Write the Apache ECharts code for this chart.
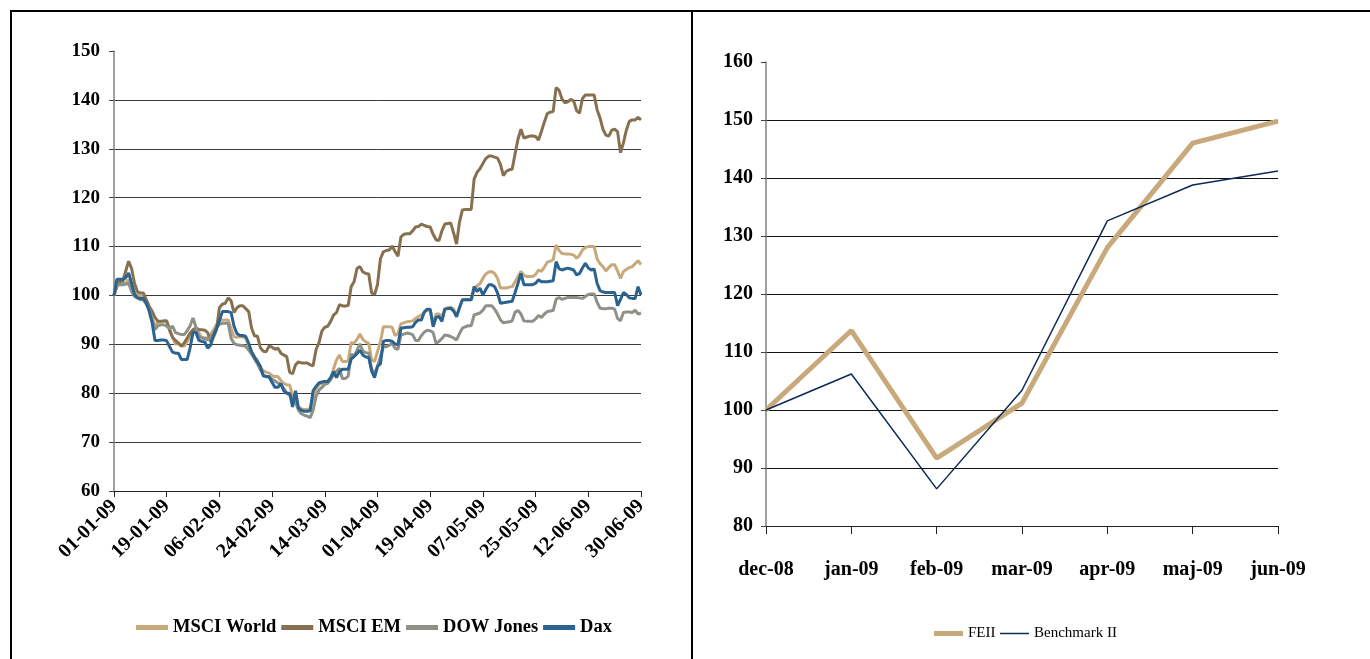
<!DOCTYPE html>
<html><head><meta charset="utf-8">
<script src="https://cdn.jsdelivr.net/npm/echarts@6/dist/echarts.min.js"></script>
<style>html,body{margin:0;padding:0;background:#fff}#c{width:1370px;height:659px}</style>
</head><body><div id="c"></div>
<script>
// ---- categories ----
const firstDayUTC = Date.UTC(2009, 0, 1);
const dayCount = 181;
const dayLabels = [];
for (let i = 0; i < dayCount; i++) {
  const d = new Date(firstDayUTC + i * 86400000);
  const dd = String(d.getUTCDate()).padStart(2, '0');
  const mm = String(d.getUTCMonth() + 1).padStart(2, '0');
  dayLabels.push(dd + '-' + mm + '-09');
}
const monthLabels = ['dec-08', 'jan-09', 'feb-09', 'mar-09', 'apr-09', 'maj-09', 'jun-09'];

// ---- left chart series (daily index, 01-01-09 = 100) ----
const msciWorld = [
100,102.4,102.5,102.5,102.6,103.2,102,100.8,100.3,99.8,
99.8,98.5,97.2,95.5,93.7,94.5,94.7,94.7,94.6,93.2,
91.5,90,90.3,89.8,89.6,90.6,91.5,93,92.8,92.3,
91.4,91.3,91.3,92,93,94,94.8,95,95,95,
93.2,91.5,91.5,91.6,91.5,91.3,89.8,88.3,87.5,86.7,
85.2,84.6,84.3,84.1,83.6,83.4,83.4,82.6,82,81.7,
81.7,79.5,78,77.2,76.8,76.7,76.6,77,79,80.7,
81.8,82,82.2,82.4,82.8,85,86.8,87.8,86.5,86.5,
86.6,90.4,90.2,91,92.1,91,90.5,90.2,86.8,86.5,
88.5,90.5,93.6,93.6,93.6,93.5,91.8,92.2,94.2,94.4,
94.6,94.7,94.8,95.3,95.7,96,96.6,97,97,94.4,
96.2,96.2,95.7,97.2,97.5,97.6,97.2,95.6,97.5,99.1,
99.1,99.1,99.1,101,102,102.4,103.5,104.4,104.8,104.9,
104.5,103.5,101.5,101.5,101.5,101.7,101.8,102.8,103.9,104.9,
104.1,103.9,103.9,103.9,104.3,105.2,104.9,105.8,106.8,107,
107.3,110.3,109.2,108.6,108.5,108.5,108.4,108.3,107.6,108.2,
109.3,109.8,110,110,110,107.5,106.5,105.9,105,105.7,
106.3,106.3,105,103.5,104.9,105.3,105.7,105.9,106.5,107.1,
106.3];
const msciEM = [
100,101.8,102.9,102.9,105,107,105.5,102.5,100.8,100.5,
100.5,99.2,97.8,96.8,95.5,94.7,94.7,94.8,94.8,92.8,
91.4,90.8,90.2,89.6,90.3,91.3,92.3,93,93.3,93,
93,92.9,92.4,90.5,91.5,93,97.5,98.2,98.4,99.5,
98.9,96.5,97.5,97.9,97.9,97.3,96.7,93.3,91.7,91.7,
89.3,88.6,88.5,89.7,89.4,89,89.2,88.2,87.8,87.5,
84.3,84,85.8,86.4,86.2,86.2,86.2,85.8,85.6,88.9,
90.3,92.7,93.5,93.7,94.7,96,96.5,98.1,97.9,97.8,
98,101.8,102.8,105.5,105.9,104.8,104.5,104.4,100.5,100.2,
102.2,107.5,108.9,109.2,109.3,110.1,109,108,112,112.5,
112.6,112.6,113.2,114,114.1,114.6,114.3,114.1,114,112.5,
111.4,111.2,113.2,114.6,114.7,114.8,112.8,110.5,115,117.5,
117.6,117.6,117.6,123.8,125.2,125.9,127,128,128.5,128.5,
128.3,128.1,126.8,124.5,125.4,125.7,125.8,129,132,134,
132.2,132.4,132.6,132.6,132.5,131.8,133.6,135.5,137.2,137.5,
137.6,142.5,142,140.2,139.4,139.6,140.1,139.8,137.8,137.3,
140.3,141,141,141,141,138,136.3,134,132.8,132.6,
133.8,134,133.5,129.2,131.2,133.8,135.6,135.9,135.9,136.4,
135.9];
const dowJones = [
100,102.2,102.2,102.2,102.3,102.5,100.8,99.8,99.5,99.1,
99.1,98.2,97.2,95.2,93,93.8,94,94,93.7,93.2,
93.7,92.4,92.2,92,92,92.8,93.8,95.4,93.5,91.6,
91.3,91.2,90.9,91.5,92.3,93.4,94.1,94.3,94.3,94.3,
91.2,90.2,89.9,89.8,89.7,89.6,88.8,88,87,86,
84.8,83.8,83.4,83.2,82.9,82.5,82.1,81.6,81,80,
79.6,79.3,78.2,76.5,75.8,75.5,75.3,75,76.5,79.3,
80.6,81.2,81.8,82,82.8,83.7,84.5,85.1,83,83,
83.5,88,87.6,88.8,90.1,88.6,88.3,88.2,85,83.9,
85.5,87.5,89.5,89.5,89.8,90.2,89.2,89,91.9,92.1,
92.3,92.2,92,90.8,90.8,91.8,92.5,92.9,92.8,92.4,
90.2,90.6,91.2,91.9,91.8,91.6,91.3,90.9,92.2,93.3,
93.6,93.8,93.8,96,96.2,96.4,97,97.9,97.9,97.9,
97.2,96.2,95,94.4,94.5,94.6,94.8,96.6,96.9,96.2,
94.8,94.7,94.7,94.7,95.2,95.9,95.5,96.2,96.7,96.8,
96.9,99.2,99.6,99.2,99.4,99.6,99.6,99.6,99.6,99.5,
99.4,99.8,100.2,100.3,100.3,98.6,97.4,97.3,97.3,97.4,
97.4,97.2,95.3,94.8,96.5,96.6,96.6,96.5,97,96.2,
96.4];
const dax = [
100,103.3,103.3,103.3,103.6,104.6,102.5,100.2,99.5,99.4,
99.4,98.5,96.8,94.5,90.8,90.8,90.9,90.9,90.7,89.5,
88.4,88.2,88.2,86.9,86.9,86.9,89.3,92.5,92.4,90.8,
90.6,90.5,89.2,89.8,91.8,93.2,94.8,96.7,96.7,96.7,
96.5,93.7,92.2,91.8,91.8,91.6,90.2,88.5,87.3,86.4,
85.5,83.5,83.4,83.4,82.2,81.2,81.2,82,80.5,80,
80,77.2,80.5,77,76.5,76.3,76.3,76.4,80.5,81.4,
82.1,82.3,82.4,82.4,83.2,84.4,83.2,84.4,84.9,84.9,
84.9,87,87.5,88.1,88.8,87.8,87.4,87.3,84.5,83.2,
85.5,86,90.6,90.8,90.8,90.6,90.1,89.9,93.3,93.4,
93.5,93.5,93.6,94.5,95,95,96.6,97.2,97.2,93.6,
95.5,95.7,94.7,97.2,97.3,97.4,96.8,95.7,97.5,99.1,
99.1,99.1,99.1,101.8,100.8,101.5,100.1,101.2,102.2,102.2,
101.8,100.5,98.4,98.5,98.6,98.7,98.8,100.6,102.5,104.5,
102.2,102.2,102.2,102.2,102.5,103.2,102.8,102.8,102.8,102.9,
103,106.9,105.5,105.2,105.4,105.6,105.4,105.2,104.2,104.5,
105.6,106.6,105.6,105.2,105.4,102.5,101,100.7,100.6,100.6,
100.6,100.6,97.9,99.2,100.6,100.2,99.5,99.4,99.4,101.8,
100.1];

// ---- right chart series (monthly) ----
const feii = [100, 113.7, 91.7, 101.2, 128, 146, 149.8];
const benchmarkII = [100, 106.2, 86.4, 103.4, 132.6, 138.8, 141.2];

// ---- axis ranges ----
const leftMin = 60, leftMax = 150, leftStep = 10;
const rightMin = 80, rightMax = 160, rightStep = 10;

const serif = '"Liberation Serif", "Times New Roman", serif';
const chart = echarts.init(document.getElementById('c'), null, {renderer: 'canvas'});

const leftLine = (name, data, color) => ({
  name, type: 'line', xAxisIndex: 0, yAxisIndex: 0, data,
  showSymbol: false, symbol: 'none', animation: false,
  lineStyle: {width: 3, color}, itemStyle: {color}
});

chart.setOption({
  animation: false,
  backgroundColor: '#fff',
  grid: [
    {left: 114, top: 51, width: 527, height: 440},
    {left: 766, top: 62, width: 512, height: 464}
  ],
  xAxis: [
    {
      type: 'category', gridIndex: 0, data: dayLabels, boundaryGap: false,
      axisLine: {lineStyle: {color: '#222', width: 1}},
      axisTick: {interval: 17, length: 6, lineStyle: {color: '#222'}},
      axisLabel: {interval: 17, rotate: 45, margin: 12, color: '#000',
        fontFamily: serif, fontWeight: 'bold', fontSize: 20}
    },
    {
      type: 'category', gridIndex: 1, data: monthLabels, boundaryGap: false,
      axisLine: {lineStyle: {color: '#222', width: 1}},
      axisTick: {length: 8, lineStyle: {color: '#222'}},
      axisLabel: {margin: 34, color: '#000', fontFamily: serif, fontWeight: 'bold', fontSize: 20}
    }
  ],
  yAxis: [
    {
      type: 'value', gridIndex: 0, min: leftMin, max: leftMax, interval: leftStep,
      axisLine: {show: true, lineStyle: {color: '#808080', width: 1.5}},
      axisTick: {show: true, length: 5, lineStyle: {color: '#444'}},
      splitLine: {show: true, showMaxLine: false, lineStyle: {color: '#3a3a3a', width: 1}},
      axisLabel: {margin: 14, color: '#000', fontFamily: serif, fontWeight: 'bold', fontSize: 19}
    },
    {
      type: 'value', gridIndex: 1, min: rightMin, max: rightMax, interval: rightStep,
      axisLine: {show: true, lineStyle: {color: '#808080', width: 1.5}},
      axisTick: {show: true, length: 5, lineStyle: {color: '#444'}},
      splitLine: {show: true, showMaxLine: false, lineStyle: {color: '#111', width: 1}},
      axisLabel: {margin: 13, color: '#000', fontFamily: serif, fontWeight: 'bold', fontSize: 20}
    }
  ],
  legend: [
    {
      data: ['MSCI World', 'MSCI EM', 'DOW Jones', 'Dax'],
      left: 131, top: 613, icon: 'rect', itemWidth: 32, itemHeight: 5, itemGap: 5,
      textStyle: {fontFamily: serif, fontWeight: 'bold', fontSize: 18.5, color: '#000'}
    },
    {
      data: ['FEII'], left: 929, top: 621, icon: 'rect', itemWidth: 29, itemHeight: 5,
      textStyle: {fontFamily: serif, fontSize: 15, color: '#000'}
    },
    {
      data: ['Benchmark II'], left: 995, top: 621, icon: 'rect', itemWidth: 29, itemHeight: 1.5,
      textStyle: {fontFamily: serif, fontSize: 15, color: '#000'}
    }
  ],
  series: [
    leftLine('MSCI World', msciWorld, '#C8A97C'),
    leftLine('MSCI EM', msciEM, '#87704F'),
    leftLine('DOW Jones', dowJones, '#8E9187'),
    leftLine('Dax', dax, '#2A6290'),
    {
      name: 'FEII', type: 'line', xAxisIndex: 1, yAxisIndex: 1, data: feii,
      showSymbol: false, symbol: 'none',
      lineStyle: {width: 5, color: '#C8A97C'}, itemStyle: {color: '#C8A97C'}
    },
    {
      name: 'Benchmark II', type: 'line', xAxisIndex: 1, yAxisIndex: 1, data: benchmarkII,
      showSymbol: false, symbol: 'none',
      lineStyle: {width: 1.5, color: '#0B2A57'}, itemStyle: {color: '#0B2A57'}
    }
  ],
  graphic: [
    {type: 'line', shape: {x1: 10, y1: 11, x2: 1370, y2: 11}, style: {stroke: '#000', lineWidth: 2}},
    {type: 'line', shape: {x1: 11, y1: 10, x2: 11, y2: 659}, style: {stroke: '#000', lineWidth: 2}},
    {type: 'line', shape: {x1: 692, y1: 10, x2: 692, y2: 659}, style: {stroke: '#000', lineWidth: 2}}
  ]
});
</script>
</body></html>
